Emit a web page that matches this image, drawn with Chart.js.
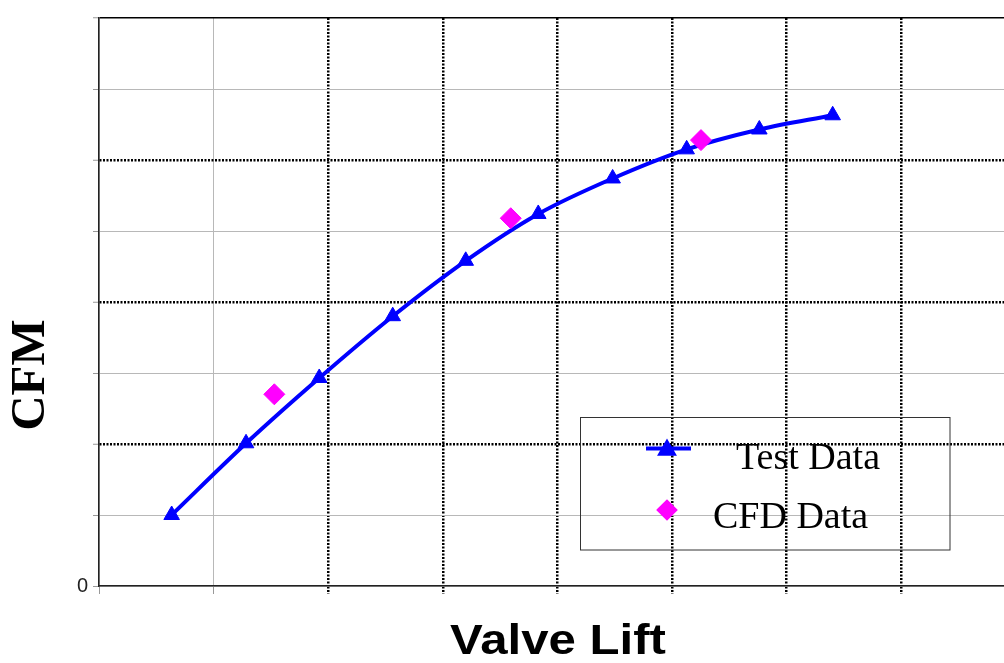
<!DOCTYPE html>
<html>
<head>
<meta charset="utf-8">
<script src="https://cdn.jsdelivr.net/npm/chart.js@4.4.1/dist/chart.umd.min.js"></script>
<style>
  html, body { margin: 0; padding: 0; background: #fff; overflow: hidden; }
  #wrap { position: relative; width: 1004px; height: 663px; }
</style>
</head>
<body>
<div id="wrap"><canvas id="flowChart" width="1004" height="663"></canvas></div>
<script>
// Valve lift vs CFM — flow bench test data against CFD predictions
// (axis units = one grid step, the source shows no numbers except 0)
const testLift = [0.634, 1.283, 1.922, 2.563, 3.200, 3.833, 4.482, 5.128, 5.762, 6.402];
const testCfm  = [1.00, 2.01, 2.93, 3.80, 4.58, 5.24, 5.74, 6.15, 6.43, 6.63];
const cfdLift  = [1.530, 3.593, 5.253];
const cfdCfm   = [2.70, 5.18, 6.28];
const xTicks = [0, 1, 2, 3, 4, 5, 6, 7];
const yTicks = [0, 1, 2, 3, 4, 5, 6, 7, 8];
const yTickLabels = ['0', '', '', '', '', '', '', '', ''];
const seriesNames = ['Test Data', 'CFD Data'];

const BLUE = '#0000ff';
const MAGENTA = '#ff00ff';

// grid style helpers: major lines dotted black, minor lines thin gray
function xMajor(v) { return v >= 2; }
function yMajor(v) { return v > 0 && v < 8 && v % 2 === 0; }

// titles + legend box drawn on top of the plot
const annotate = {
  id: 'annotate',
  afterDraw(chart) {
    const ctx = chart.ctx;
    const ds = chart.data.datasets;

    // y title
    ctx.save();
    ctx.translate(31, 375);
    ctx.rotate(-Math.PI / 2);
    ctx.font = 'bold 49px "Liberation Serif", "DejaVu Serif", serif';
    ctx.fillStyle = '#000';
    ctx.textAlign = 'center';
    ctx.textBaseline = 'middle';
    ctx.fillText('CFM', 0, 0);
    ctx.restore();

    // x title
    ctx.save();
    ctx.translate(558, 654);
    ctx.scale(1.17, 1);
    ctx.font = 'bold 42px "Liberation Sans", Arial, sans-serif';
    ctx.fillStyle = '#000';
    ctx.textAlign = 'center';
    ctx.textBaseline = 'alphabetic';
    ctx.fillText('Valve Lift', 0, 0);
    ctx.restore();

    // legend
    ctx.save();
    ctx.strokeStyle = '#333';
    ctx.lineWidth = 1;
    ctx.strokeRect(580.5, 417.5, 369.5, 132.5);

    // test data sample
    ctx.strokeStyle = ds[1].borderColor;
    ctx.lineWidth = 4;
    ctx.beginPath();
    ctx.moveTo(646, 448.5);
    ctx.lineTo(691, 448.5);
    ctx.stroke();
    ctx.fillStyle = ds[1].pointBackgroundColor;
    ctx.strokeStyle = ds[1].pointBorderColor;
    Chart.helpers.drawPoint(ctx, { pointStyle: 'triangle', radius: 7.5, rotation: 0, borderWidth: 1 }, 667, 450);

    // cfd sample
    ctx.fillStyle = ds[0].pointBackgroundColor;
    ctx.strokeStyle = ds[0].pointBorderColor;
    Chart.helpers.drawPoint(ctx, { pointStyle: 'rectRot', radius: 8, rotation: 0, borderWidth: 1 }, 667, 510);

    ctx.font = '38px "Liberation Serif", "DejaVu Serif", serif';
    ctx.fillStyle = '#000';
    ctx.textAlign = 'left';
    ctx.textBaseline = 'alphabetic';
    ctx.fillText(ds[1].label, 736, 469);
    ctx.fillText(ds[0].label, 713, 528);
    ctx.restore();
  }
};

const ctx = document.getElementById('flowChart');

new Chart(ctx, {
  type: 'scatter',
  data: {
    datasets: [
      {
        label: seriesNames[1],
        data: cfdLift.map((x, i) => ({ x: x, y: cfdCfm[i] })),
        showLine: false,
        pointStyle: 'rectRot',
        pointRadius: 10.5,
        pointBackgroundColor: MAGENTA,
        pointBorderColor: MAGENTA,
        pointBorderWidth: 1,
        order: 0
      },
      {
        label: seriesNames[0],
        data: testLift.map((x, i) => ({ x: x, y: testCfm[i] })),
        showLine: true,
        borderColor: BLUE,
        borderWidth: 4,
        cubicInterpolationMode: 'monotone',
        pointStyle: 'triangle',
        pointRadius: 9,
        pointBackgroundColor: BLUE,
        pointBorderColor: BLUE,
        pointBorderWidth: 1,
        order: 1
      }
    ]
  },
  options: {
    responsive: false,
    animation: false,
    events: [],
    layout: { autoPadding: false, padding: { top: 18, right: 0, bottom: 69, left: 0 } },
    plugins: {
      legend: { display: false },
      tooltip: { enabled: false }
    },
    scales: {
      x: {
        type: 'linear',
        min: 0,
        max: 7.897,
        afterBuildTicks: s => { s.ticks = xTicks.map(v => ({ value: v })); },
        afterFit: s => { s.height = 8; },
        ticks: { display: false },
        grid: {
          color: c => (c.tick && xMajor(c.tick.value)) ? '#000' : '#b8b8b8',
          lineWidth: c => (c.tick && xMajor(c.tick.value)) ? 2.5 : 1,
          tickColor: c => (c.tick && xMajor(c.tick.value)) ? '#000' : '#999',
          tickWidth: c => (c.tick && xMajor(c.tick.value)) ? 2.5 : 1,
          tickBorderDash: c => (c.tick && xMajor(c.tick.value)) ? [2, 1.5] : [],
          tickLength: 8
        },
        border: {
          color: '#222',
          width: 1.5,
          dash: c => (c.tick && xMajor(c.tick.value)) ? [2, 1.5] : []
        }
      },
      y: {
        type: 'linear',
        min: 0,
        max: 8,
        afterBuildTicks: s => { s.ticks = yTicks.map(v => ({ value: v })); },
        afterFit: s => { s.width = 99; },
        ticks: {
          callback: (v, i) => yTickLabels[i],
          font: { family: '"Liberation Sans", Arial, sans-serif', size: 20 },
          color: '#222',
          padding: 5
        },
        grid: {
          color: c => {
            if (!c.tick) return '#b8b8b8';
            const v = c.tick.value;
            return (yMajor(v) || v === 8) ? '#000' : '#b8b8b8';
          },
          lineWidth: c => {
            if (!c.tick) return 1;
            const v = c.tick.value;
            if (v === 8) return 1.5;
            return yMajor(v) ? 2.5 : 1;
          },
          tickColor: '#999',
          tickWidth: 1,
          tickLength: 6
        },
        border: {
          color: '#222',
          width: 1.5,
          dash: c => (c.tick && yMajor(c.tick.value)) ? [2, 1.5] : []
        }
      }
    }
  },
  plugins: [annotate]
});
</script>
</body>
</html>
